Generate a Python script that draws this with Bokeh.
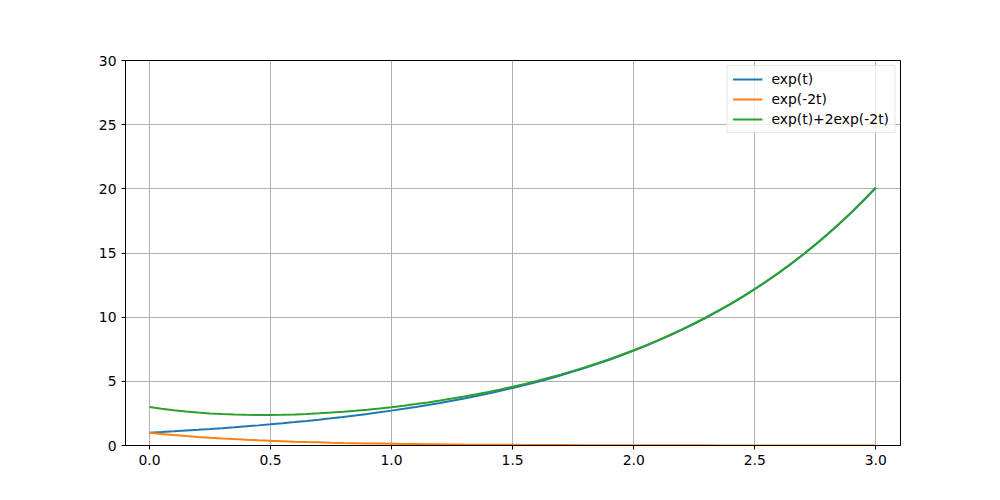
from bokeh.plotting import figure
from bokeh.models import Range1d, FixedTicker, Legend, LegendItem
from bokeh.embed import file_html
from bokeh.resources import INLINE

t = [0.00, 0.05, 0.10, 0.15, 0.20, 0.25, 0.30, 0.35, 0.40, 0.45,
     0.50, 0.55, 0.60, 0.65, 0.70, 0.75, 0.80, 0.85, 0.90, 0.95,
     1.00, 1.05, 1.10, 1.15, 1.20, 1.25, 1.30, 1.35, 1.40, 1.45,
     1.50, 1.55, 1.60, 1.65, 1.70, 1.75, 1.80, 1.85, 1.90, 1.95,
     2.00, 2.05, 2.10, 2.15, 2.20, 2.25, 2.30, 2.35, 2.40, 2.45,
     2.50, 2.55, 2.60, 2.65, 2.70, 2.75, 2.80, 2.85, 2.90, 2.95, 3.00]
exp_t = [1.000, 1.051, 1.105, 1.162, 1.221, 1.284, 1.350, 1.419, 1.492, 1.568,
         1.649, 1.733, 1.822, 1.916, 2.014, 2.117, 2.226, 2.340, 2.460, 2.586,
         2.718, 2.858, 3.004, 3.158, 3.320, 3.490, 3.669, 3.857, 4.055, 4.263,
         4.482, 4.711, 4.953, 5.207, 5.474, 5.755, 6.050, 6.360, 6.686, 7.029,
         7.389, 7.768, 8.166, 8.585, 9.025, 9.488, 9.974, 10.486, 11.023, 11.588,
         12.182, 12.807, 13.464, 14.154, 14.880, 15.643, 16.445, 17.288, 18.174, 19.106, 20.086]
exp_m2t = [1.000, 0.905, 0.819, 0.741, 0.670, 0.607, 0.549, 0.497, 0.449, 0.407,
           0.368, 0.333, 0.301, 0.273, 0.247, 0.223, 0.202, 0.183, 0.165, 0.150,
           0.135, 0.122, 0.111, 0.100, 0.091, 0.082, 0.074, 0.067, 0.061, 0.055,
           0.050, 0.045, 0.041, 0.037, 0.033, 0.030, 0.027, 0.025, 0.022, 0.020,
           0.018, 0.017, 0.015, 0.014, 0.012, 0.011, 0.010, 0.009, 0.008, 0.007,
           0.007, 0.006, 0.006, 0.005, 0.005, 0.004, 0.004, 0.003, 0.003, 0.003, 0.002]
combo = [3.000, 2.861, 2.742, 2.644, 2.562, 2.497, 2.448, 2.412, 2.391, 2.381,
         2.385, 2.399, 2.424, 2.461, 2.507, 2.563, 2.630, 2.705, 2.791, 2.885,
         2.989, 3.103, 3.226, 3.359, 3.501, 3.654, 3.818, 3.991, 4.177, 4.373,
         4.582, 4.801, 5.035, 5.281, 5.541, 5.815, 6.105, 6.409, 6.731, 7.069,
         7.426, 7.801, 8.196, 8.612, 9.050, 9.510, 9.994, 10.504, 11.039, 11.603,
         12.195, 12.819, 13.475, 14.164, 14.889, 15.651, 16.452, 17.295, 18.180, 19.111, 20.091]
labels = ["exp(t)", "exp(-2t)", "exp(t)+2exp(-2t)"]
x_ticks = [0.0, 0.5, 1.0, 1.5, 2.0, 2.5, 3.0]
y_ticks = [0, 5, 10, 15, 20, 25, 30]

p = figure(width=992, height=492, output_backend="svg", toolbar_location=None,
           x_range=Range1d(-0.099, 3.102), y_range=Range1d(0, 30),
           min_border_left=125, min_border_right=92, min_border_top=60, min_border_bottom=47)
p.background_fill_color = "white"
p.border_fill_color = "white"
p.outline_line_color = "black"
p.outline_line_width = 1

colors = ["#1f77b4", "#ff7f0e", "#2ca02c"]
r1 = p.line(t, exp_t, line_color=colors[0], line_width=2)
r2 = p.line(t, exp_m2t, line_color=colors[1], line_width=2)
r3 = p.line(t, combo, line_color=colors[2], line_width=2)

for ax in (p.xaxis[0], p.yaxis[0]):
    ax.axis_line_color = "black"
    ax.major_tick_line_color = "black"
    ax.major_tick_out = 4
    ax.major_tick_in = 0
    ax.minor_tick_line_color = None
    ax.major_label_text_font = "DejaVu Sans"
    ax.major_label_text_font_size = "13.9px"
    ax.major_label_text_color = "black"
p.xaxis.ticker = FixedTicker(ticks=x_ticks)
p.yaxis.ticker = FixedTicker(ticks=y_ticks)
p.xaxis.major_label_overrides = {v: f"{v:.1f}" for v in x_ticks}
p.xaxis.major_label_standoff = 5
p.yaxis.major_label_standoff = 5

p.xgrid.ticker = FixedTicker(ticks=x_ticks)
p.ygrid.ticker = FixedTicker(ticks=y_ticks)
p.grid.grid_line_color = "#b0b0b0"
p.grid.grid_line_width = 1

legend = Legend(items=[LegendItem(label=labels[0], renderers=[r1]),
                       LegendItem(label=labels[1], renderers=[r2]),
                       LegendItem(label=labels[2], renderers=[r3])],
                location="top_right")
legend.label_text_font = "DejaVu Sans"
legend.label_text_font_size = "13.9px"
legend.label_text_color = "black"
legend.label_height = 16
legend.glyph_height = 16
legend.glyph_width = 30
legend.spacing = 4
legend.padding = 5
legend.margin = 5
legend.border_line_color = "#cccccc"
legend.border_line_width = 1
legend.background_fill_alpha = 0.8
legend.label_standoff = 9
p.add_layout(legend)

open("out.html", "w").write(file_html(p, INLINE))
